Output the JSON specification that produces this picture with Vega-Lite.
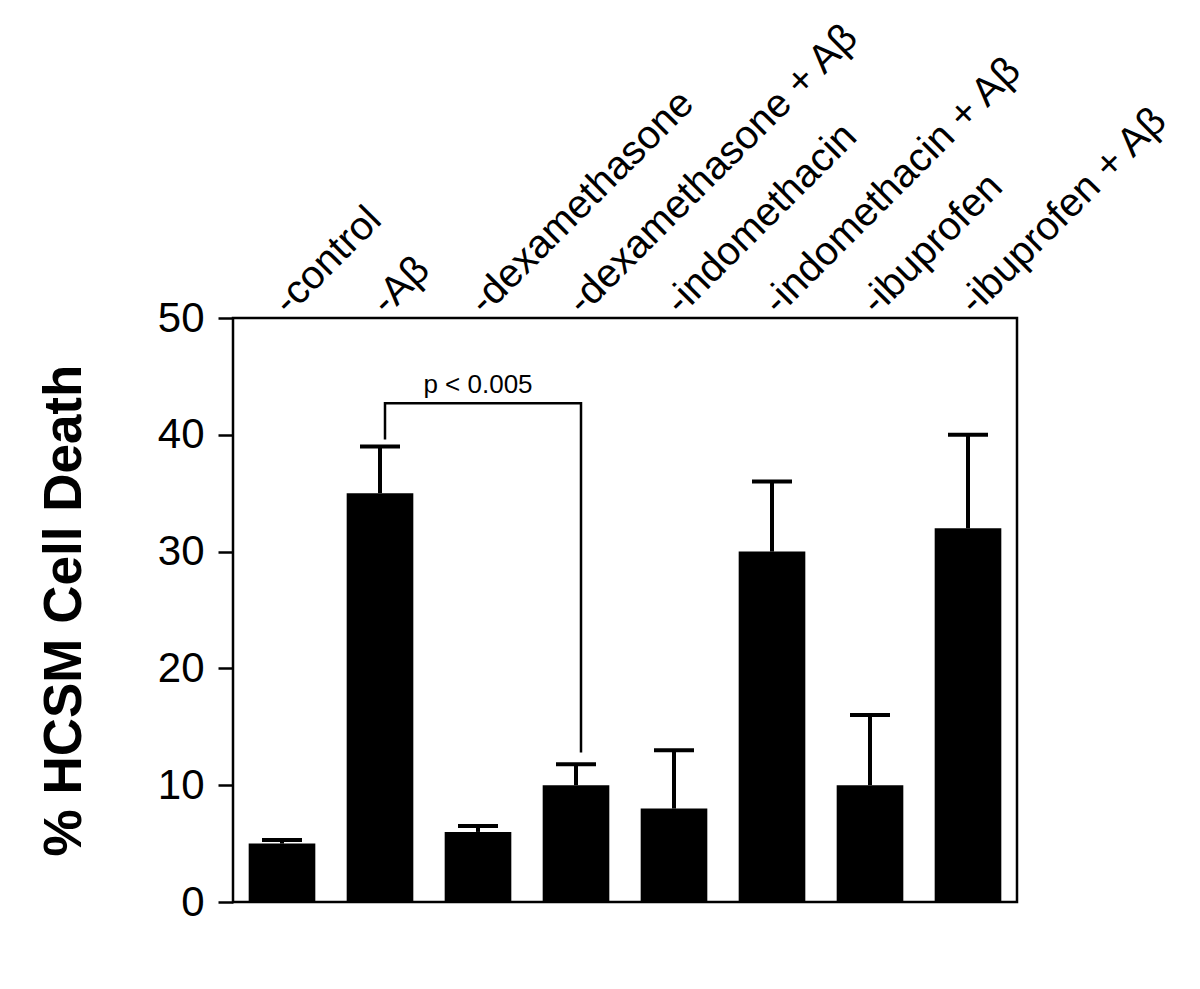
{
  "$schema": "https://vega.github.io/schema/vega-lite/v6.json",
  "width": 784,
  "height": 584,
  "autosize": {"type": "none"},
  "padding": {"left": 233, "top": 318, "right": 183, "bottom": 87},
  "background": "white",
  "config": {"view": {"stroke": "black", "strokeWidth": 2.5}, "font": "Liberation Sans"},
  "datasets": {
    "bars": [
      {"group": "control", "mean": 5, "upper": 5.3},
      {"group": "Aβ", "mean": 35, "upper": 39},
      {"group": "dexamethasone", "mean": 6, "upper": 6.5},
      {"group": "dexamethasone + Aβ", "mean": 10, "upper": 11.8},
      {"group": "indomethacin", "mean": 8, "upper": 13},
      {"group": "indomethacin + Aβ", "mean": 30, "upper": 36},
      {"group": "ibuprofen", "mean": 10, "upper": 16},
      {"group": "ibuprofen + Aβ", "mean": 32, "upper": 40}
    ],
    "bracket": [
      {"group": "Aβ", "y": 39.6, "step": 1},
      {"group": "Aβ", "y": 42.7, "step": 2},
      {"group": "dexamethasone + Aβ", "y": 42.7, "step": 3},
      {"group": "dexamethasone + Aβ", "y": 12.8, "step": 4}
    ],
    "note": [{"group": "dexamethasone", "y": 43.6, "label": "p < 0.005"}]
  },
  "encoding": {
    "x": {
      "field": "group",
      "type": "nominal",
      "sort": null,
      "scale": {
        "domain": ["control", "Aβ", "dexamethasone", "dexamethasone + Aβ", "indomethacin", "indomethacin + Aβ", "ibuprofen", "ibuprofen + Aβ"],
        "paddingInner": 0.32,
        "paddingOuter": 0.16
      },
      "axis": {
        "orient": "top",
        "title": null,
        "domain": false,
        "ticks": false,
        "tickSize": 0,
        "labelAngle": -45,
        "labelAlign": "left",
        "labelBaseline": "alphabetic",
        "labelPadding": 2,
        "labelOffset": 7,
        "labelFontSize": 40,
        "labelColor": "black",
        "labelLimit": 0,
        "labelOverlap": false,
        "labelExpr": "'-' + datum.label"
      }
    }
  },
  "layer": [
    {
      "data": {"name": "bars"},
      "mark": {"type": "bar", "color": "black"},
      "encoding": {
        "y": {
          "field": "mean",
          "type": "quantitative",
          "title": "% HCSM Cell Death",
          "scale": {"domain": [0, 50], "nice": false},
          "axis": {
            "titleFontSize": 53,
            "titleFontWeight": "bold",
            "titleColor": "black",
            "titlePadding": 66,
            "values": [0, 10, 20, 30, 40, 50],
            "tickSize": 15,
            "tickWidth": 2.5,
            "tickColor": "black",
            "labelFontSize": 42,
            "labelColor": "black",
            "labelPadding": 14,
            "labelFlush": false,
            "domain": false,
            "grid": false
          }
        }
      }
    },
    {
      "data": {"name": "bars"},
      "mark": {"type": "rule", "color": "black", "strokeWidth": 4},
      "encoding": {
        "y": {"field": "mean", "type": "quantitative", "title": "% HCSM Cell Death"},
        "y2": {"field": "upper"}
      }
    },
    {
      "data": {"name": "bars"},
      "mark": {"type": "tick", "color": "black", "size": 40, "thickness": 4, "opacity": 1},
      "encoding": {
        "y": {"field": "upper", "type": "quantitative", "title": "% HCSM Cell Death"}
      }
    },
    {
      "data": {"name": "bracket"},
      "mark": {"type": "line", "color": "black", "strokeWidth": 2.5, "xOffset": 5},
      "encoding": {
        "y": {"field": "y", "type": "quantitative", "title": "% HCSM Cell Death"},
        "order": {"field": "step", "type": "quantitative"}
      }
    },
    {
      "data": {"name": "note"},
      "mark": {"type": "text", "color": "black", "fontSize": 26, "align": "center", "baseline": "alphabetic"},
      "encoding": {
        "y": {"field": "y", "type": "quantitative", "title": "% HCSM Cell Death"},
        "text": {"field": "label"}
      }
    }
  ]
}
